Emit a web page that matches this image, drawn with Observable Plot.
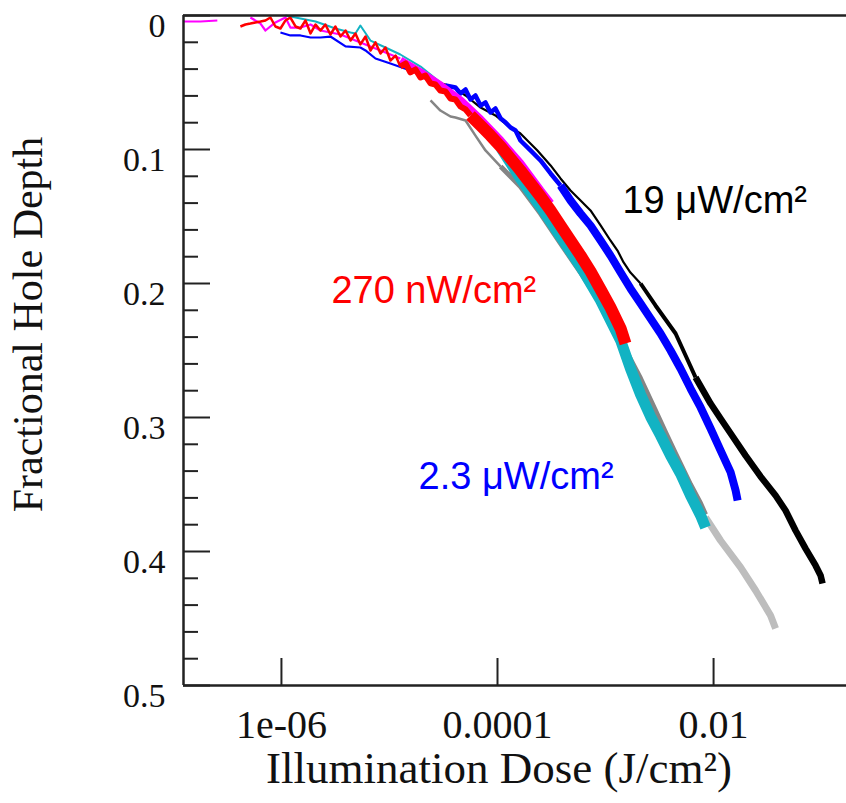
<!DOCTYPE html>
<html><head><meta charset="utf-8">
<script src="https://cdn.jsdelivr.net/npm/d3@7"></script>
<script src="https://cdn.jsdelivr.net/npm/@observablehq/plot@0.6"></script>
<style>body{margin:0;background:#fff}</style>
</head><body><div id="chart"></div>
<script>
// ---- axis ticks ----
const yMajorTicks = [0, 0.1, 0.2, 0.3, 0.4, 0.5];
const yTickLabels = ["0", "0.1", "0.2", "0.3", "0.4", "0.5"];
const yMinorTicks = [0.02,0.04,0.06,0.08,0.12,0.14,0.16,0.18,0.22,0.24,0.26,0.28,0.32,0.34,0.36,0.38,0.42,0.44,0.46,0.48];
const xTicks = [1e-6, 1e-4, 1e-2];
const xTickLabels = ["1e-06", "0.0001", "0.01"];
const xTitle = "Illumination Dose (J/cm²)";
const yTitle = "Fractional Hole Depth";

// ---- series (dose J/cm², fractional hole depth) ----
const magentaStartDose = [1.24e-7,1.78e-7,2.55e-7];
const magentaStartDepth = [0.0045,0.0045,0.0037];
const magentaEarlyDose = [5.16e-7,6.40e-7,7.11e-7,8.79e-7,1.09e-6,1.21e-6,1.50e-6,1.86e-6,2.30e-6,3.52e-6,5.38e-6,8.26e-6,1.26e-5];
const magentaEarlyDepth = [0.0015,0.006,0.0112,0.0052,0.0015,0.009,0.009,0.0067,0.0112,0.0142,0.0201,0.0261,0.0321];
const magentaBandDose = [1.26e-5,1.94e-5,2.96e-5,4.54e-5,6.97e-5,1.07e-4,1.63e-4,2.50e-4,3.10e-4];
const magentaBandDepth = [0.0336,0.0425,0.0522,0.0634,0.0776,0.0933,0.1104,0.1306,0.1403];

const redEarlyDose = [4.17e-7,4.64e-7,5.16e-7,5.74e-7,6.40e-7,7.11e-7,7.91e-7,8.79e-7,9.79e-7,1.09e-6,1.21e-6,1.35e-6,1.50e-6,1.67e-6,1.86e-6,2.07e-6,2.30e-6,2.55e-6,2.84e-6,3.16e-6,3.52e-6,3.92e-6,4.36e-6,4.84e-6,5.38e-6,6.00e-6,6.67e-6,7.42e-6,8.26e-6,9.18e-6,1.02e-5,1.14e-5,1.26e-5];
const redEarlyDepth = [0.0082,0.0067,0.006,0.0052,0.0045,0.0037,0.0015,0.0082,0.0097,0.0037,0.0015,0.0082,0.0097,0.0037,0.0134,0.0067,0.0112,0.0067,0.0142,0.0082,0.0157,0.0112,0.0187,0.0134,0.0216,0.0157,0.0261,0.0201,0.0284,0.0239,0.0336,0.0299,0.0381];
const redMidDose = [1.26e-5,1.41e-5,1.56e-5,1.74e-5,1.94e-5,2.15e-5,2.40e-5,2.67e-5,2.96e-5,3.30e-5,3.67e-5,4.08e-5,4.54e-5,5.06e-5,5.62e-5];
const redMidDepth = [0.0381,0.0358,0.0425,0.0403,0.0463,0.0448,0.0507,0.0515,0.056,0.0567,0.0619,0.0627,0.0679,0.0701,0.0746];
const redBandDose = [5.62e-5,6.97e-5,8.61e-5,1.07e-4,1.32e-4,1.63e-4,2.02e-4,2.50e-4,3.10e-4,3.83e-4,4.74e-4,5.87e-4,7.26e-4,9.00e-4,1.11e-3,1.38e-3,1.53e-3];
const redBandDepth = [0.0746,0.0821,0.0896,0.0978,0.1067,0.1157,0.1254,0.1351,0.1455,0.1567,0.1679,0.1791,0.191,0.2045,0.2179,0.2336,0.2448];

const cyanEarlyDose = [1.09e-6,1.50e-6,2.07e-6,3.16e-6,4.36e-6,4.84e-6,5.38e-6,6.67e-6,9.18e-6,1.26e-5,1.94e-5,2.96e-5,4.54e-5,6.97e-5,1.07e-4];
const cyanEarlyDepth = [0,0.0022,0.0045,0.0097,0.0127,0.0134,0.0075,0.0187,0.0239,0.0291,0.0381,0.05,0.0634,0.0799,0.0985];
const cyanBandDose = [1.07e-4,1.63e-4,2.50e-4,3.83e-4,5.87e-4,9.00e-4,1.38e-3,1.70e-3,2.11e-3,2.61e-3,3.23e-3,4.00e-3,4.94e-3,6.12e-3,7.59e-3,8.43e-3];
const cyanBandDepth = [0.0985,0.1216,0.1425,0.1649,0.1873,0.2127,0.2425,0.2634,0.2828,0.2993,0.3134,0.3284,0.3418,0.3582,0.3731,0.3821];

const grayEarlyDose = [2.40e-5,2.96e-5,3.67e-5,4.08e-5,5.06e-5,6.25e-5,7.74e-5,1.07e-4];
const grayEarlyDepth = [0.0634,0.0709,0.0754,0.0761,0.0784,0.0896,0.1007,0.1127];
const grayDose = [1.07e-4,1.63e-4,2.50e-4,3.83e-4,5.87e-4,9.00e-4,1.38e-3,2.11e-3,2.90e-3,3.60e-3,4.45e-3,6.12e-3,7.59e-3,8.43e-3];
const grayDepth = [0.1127,0.1276,0.1478,0.1701,0.1918,0.2149,0.2425,0.2709,0.2948,0.3112,0.3269,0.35,0.3642,0.3724];
const lightGrayDose = [8.43e-3,1.16e-2,1.78e-2,2.45e-2,3.37e-2,3.75e-2];
const lightGrayDepth = [0.3746,0.3918,0.4119,0.4291,0.4478,0.4575];

const blueEarlyDose = [9.79e-7,1.21e-6,1.50e-6,1.86e-6,2.30e-6,2.84e-6,3.92e-6,5.38e-6,6.00e-6,7.42e-6,1.02e-5,1.56e-5,2.40e-5,3.30e-5];
const blueEarlyDepth = [0.0127,0.0149,0.0149,0.0164,0.0164,0.0157,0.0231,0.0239,0.0261,0.0321,0.0358,0.041,0.047,0.0522];
const blueMidDose = [3.30e-5,4.08e-5,4.54e-5,5.06e-5,5.62e-5,6.25e-5,6.97e-5,7.74e-5,8.61e-5,9.57e-5,1.07e-4,1.19e-4,1.32e-4,1.47e-4,1.63e-4,2.02e-4,2.50e-4,3.10e-4,3.83e-4];
const blueMidDepth = [0.0522,0.0537,0.0582,0.0552,0.0627,0.0597,0.0672,0.0649,0.0724,0.0694,0.0769,0.0799,0.0836,0.0858,0.0933,0.1007,0.1082,0.1179,0.1269];
const blueBandDose = [3.83e-4,4.74e-4,5.87e-4,7.26e-4,9.00e-4,1.11e-3,1.38e-3,1.70e-3,2.11e-3,2.61e-3,3.23e-3,4.00e-3,4.94e-3,6.12e-3,7.59e-3,9.38e-3,1.16e-2,1.44e-2,1.60e-2,1.67e-2];
const blueBandDepth = [0.1269,0.1381,0.1478,0.1567,0.1679,0.1791,0.1918,0.2037,0.2149,0.2261,0.2373,0.25,0.2634,0.2784,0.2925,0.3082,0.3246,0.341,0.3545,0.3619];

const blackEarlyDose = [2.40e-5,3.30e-5,4.08e-5,5.06e-5,6.97e-5,9.57e-5,1.24e-4,1.63e-4,2.34e-4,3.10e-4,3.83e-4,4.74e-4,5.87e-4,7.26e-4,9.00e-4,1.11e-3,1.29e-3,1.47e-3,1.70e-3,2.11e-3];
const blackEarlyDepth = [0.0485,0.0515,0.0545,0.0597,0.0687,0.0746,0.0821,0.0881,0.1007,0.1119,0.1216,0.1306,0.1381,0.1455,0.1567,0.1679,0.1754,0.1843,0.1918,0.2];
const blackMidDose = [2.11e-3,2.90e-3,4.45e-3,5.51e-3,6.81e-3];
const blackMidDepth = [0.2,0.2164,0.2373,0.2537,0.2701];
const blackBandDose = [6.81e-3,9.38e-3,1.16e-2,1.44e-2,1.98e-2,2.72e-2,3.75e-2,4.64e-2,5.74e-2,7.11e-2,8.79e-2,9.79e-2,0.102];
const blackBandDepth = [0.2701,0.2896,0.3007,0.3119,0.3284,0.344,0.3582,0.3694,0.3843,0.3978,0.4104,0.4179,0.4239];

// ---- annotations ----
const labelTexts = ["19 μW/cm²", "270 nW/cm²", "2.3 μW/cm²"];
const labelDose = [1.435e-3, 2.9e-6, 1.86e-5];
const labelDepth = [0.138, 0.2052, 0.344];
const labelColors = ["#000000", "#ff0000", "#0000ff"];

// ---- build rows ----
const rows = (dose, depth) => dose.map((d, i) => ({dose: d, depth: depth[i]}));
const layers = [
  {data: rows(lightGrayDose, lightGrayDepth), stroke: "#bdbdbd", w: 7},
  {data: rows(grayEarlyDose, grayEarlyDepth), stroke: "#858585", w: 2.5},
  {data: rows(grayDose, grayDepth), stroke: "#858585", w: 5},
  {data: rows(blackEarlyDose, blackEarlyDepth), stroke: "#000000", w: 2.2},
  {data: rows(blackMidDose, blackMidDepth), stroke: "#000000", w: 4},
  {data: rows(blackBandDose, blackBandDepth), stroke: "#000000", w: 6.5},
  {data: rows(blueEarlyDose, blueEarlyDepth), stroke: "#0000ff", w: 2.2},
  {data: rows(blueMidDose, blueMidDepth), stroke: "#0000ff", w: 4.5},
  {data: rows(blueBandDose, blueBandDepth), stroke: "#0000ff", w: 8},
  {data: rows(cyanEarlyDose, cyanEarlyDepth), stroke: "#12b3c3", w: 2},
  {data: rows(cyanBandDose, cyanBandDepth), stroke: "#12b3c3", w: 11},
  {data: rows(magentaStartDose, magentaStartDepth), stroke: "#ff00ff", w: 2},
  {data: rows(magentaEarlyDose, magentaEarlyDepth), stroke: "#ff00ff", w: 2.2},
  {data: rows(magentaBandDose, magentaBandDepth), stroke: "#ff00ff", w: 8},
  {data: rows(redEarlyDose, redEarlyDepth), stroke: "#ff0000", w: 2.5},
  {data: rows(redMidDose, redMidDepth), stroke: "#ff0000", w: 6},
  {data: rows(redBandDose, redBandDepth), stroke: "#ff0000", w: 12}
];
const labels = labelTexts.map((t, i) => ({text: t, dose: labelDose[i], depth: labelDepth[i], color: labelColors[i]}));
const xTickRows = xTicks.map((v, i) => ({v, label: xTickLabels[i]}));
const yTickRows = yMajorTicks.map((v, i) => ({v, label: yTickLabels[i]}));

const W = 846, H = 803, ML = 183, MR = 0, MT = 15, MB = 118;
const plotW = W - ML - MR, plotH = H - MT - MB;
const serif = "Liberation Serif, Times New Roman, serif";
const sans = "Liberation Sans, Arial, sans-serif";
const axisColor = "#222";

const chart = Plot.plot({
  width: W, height: H,
  marginLeft: ML, marginRight: MR, marginTop: MT, marginBottom: MB,
  style: {background: "white", overflow: "visible"},
  x: {type: "log", domain: [1.24e-7, 0.17], axis: null},
  y: {domain: [0, 0.5], reverse: true, axis: null},
  marks: [
    ...layers.map(l => Plot.line(l.data, {x: "dose", y: "depth", stroke: l.stroke, strokeWidth: l.w, strokeLinejoin: "round", strokeLinecap: "butt"})),
    Plot.ruleX([1.24e-7], {stroke: axisColor, strokeWidth: 2.5}),
    Plot.ruleY([0.5], {stroke: axisColor, strokeWidth: 2.5}),
    Plot.ruleY([0], {stroke: axisColor, strokeWidth: 2.5}),
    Plot.tickY(yMajorTicks, {y: d => d, insetRight: plotW - 27, stroke: axisColor, strokeWidth: 2}),
    Plot.tickY(yMinorTicks, {y: d => d, insetRight: plotW - 15, stroke: axisColor, strokeWidth: 2}),
    Plot.tickX(xTicks, {x: d => d, insetTop: plotH - 27, stroke: axisColor, strokeWidth: 2}),
    Plot.text(yTickRows, {y: "v", text: "label", frameAnchor: "left", textAnchor: "end", lineAnchor: "middle", dx: -18, dy: 11, fontSize: 34, fontFamily: serif, fill: "#111"}),
    Plot.text(xTickRows, {x: "v", text: "label", frameAnchor: "bottom", lineAnchor: "middle", dy: 40, fontSize: 40, fontFamily: serif, fill: "#111"}),
    Plot.text([xTitle], {frameAnchor: "bottom", textAnchor: "middle", lineAnchor: "middle", dx: -16, dy: 83, fontSize: 45, fontFamily: serif, fill: "#111"}),
    Plot.text([yTitle], {frameAnchor: "left", textAnchor: "middle", lineAnchor: "middle", rotate: -90, dx: -155, dy: -26, fontSize: 42, fontFamily: serif, fill: "#111"}),
    Plot.text(labels, {x: "dose", y: "depth", text: "text", fill: "color", textAnchor: "start", lineAnchor: "middle", fontSize: 38, fontFamily: sans})
  ]
});
document.getElementById("chart").appendChild(chart);
</script></body></html>
